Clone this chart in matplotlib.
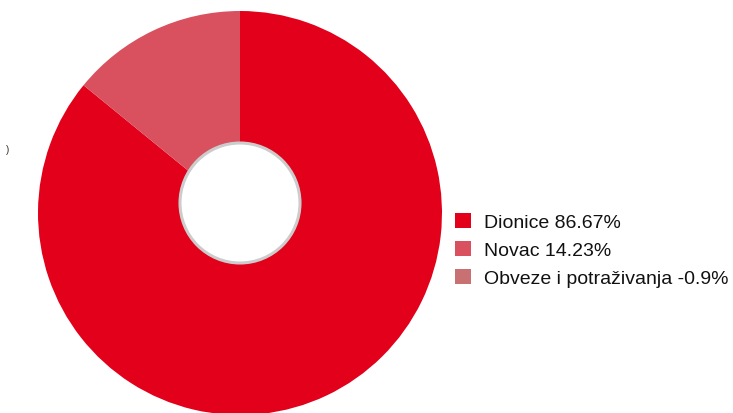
import matplotlib.pyplot as plt
from matplotlib.patches import Circle, Patch

kategorije = ["Dionice", "Novac", "Obveze i potraživanja"]
udjeli = [86.67, 14.23, -0.9]
boje = ["#E2001A", "#D9505E", "#C97072"]

plt.rcParams['font.family'] = ['Liberation Sans', 'DejaVu Sans']

fig = plt.figure(figsize=(7.33, 4.14), dpi=100)
ax = fig.add_axes([0, 0, 1, 1])

# negativni udjeli se ne crtaju u pieu
poz = [(v, c) for v, c in zip(udjeli, boje) if v > 0]
ax.pie([v for v, c in poz], colors=[c for v, c in poz], startangle=90,
       counterclock=False, radius=202, center=(240, 414 - 214))

ax.add_patch(Circle((240, 414 - 204), 60, facecolor="white",
                    edgecolor="#CCCCCC", linewidth=2.2, zorder=5))

ax.set_xlim(0, 733)
ax.set_ylim(0, 414)
ax.axis('off')

ax.text(6, 414 - 150, ")", fontsize=7, color="#3a2a20", ha="left", va="center")

handles = [Patch(facecolor=c, edgecolor="none") for c in boje]
labels = [f"{k} {v:g}%" for k, v in zip(kategorije, udjeli)]
leg = ax.legend(handles, labels, loc="center left",
                bbox_to_anchor=(455 / 733, 1 - 251 / 414), frameon=False,
                fontsize=14, handlelength=0.8, handleheight=0.8,
                handletextpad=0.7, labelspacing=0.5, borderpad=0, borderaxespad=0)
for t in leg.get_texts():
    t.set_color("#111111")

fig.savefig("out.png", dpi=100)
